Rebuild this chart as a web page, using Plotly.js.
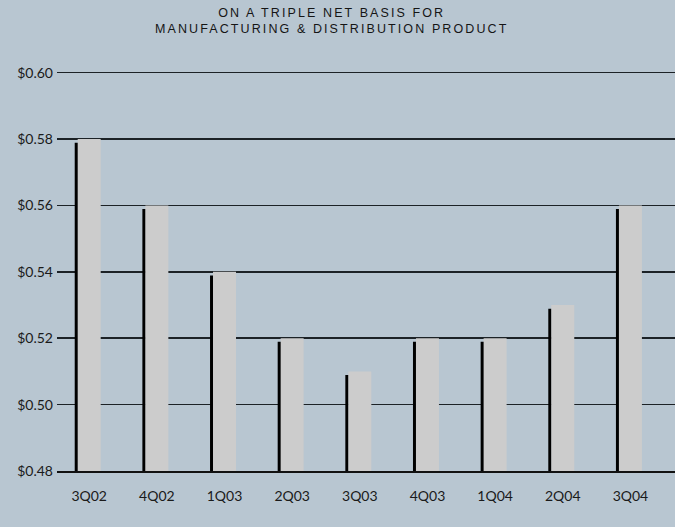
<!DOCTYPE html>
<html>
<head>
<meta charset="utf-8">
<script src="https://cdn.plot.ly/plotly-3.0.1.min.js"></script>
<style>
  html, body { margin: 0; padding: 0; background: #b8c6d1; }
  #chart { width: 675px; height: 527px; }
  .annotation-text { letter-spacing: 2.1px; }
</style>
</head>
<body>
<div id="chart"></div>
<script>
// Quarterly rent per square foot, triple net basis
const quarters = ['3Q02', '4Q02', '1Q03', '2Q03', '3Q03', '4Q03', '1Q04', '2Q04', '3Q04'];
const rentPerSqFt = [0.58, 0.56, 0.54, 0.52, 0.51, 0.52, 0.52, 0.53, 0.56];
const yTickValues = [0.48, 0.50, 0.52, 0.54, 0.56, 0.58, 0.60];
const yTickLabels = ['$0.48', '$0.50', '$0.52', '$0.54', '$0.56', '$0.58', '$0.60'];
const titleLines = ['ON A TRIPLE NET BASIS FOR', 'MANUFACTURING &amp; DISTRIBUTION PRODUCT'];

// The dark edge to the left of each bar sits slightly lower than the bar itself
const SHADOW_DROP = 0.0011;
const shadowHeights = rentPerSqFt.map(v => v - SHADOW_DROP);
const xIdx = quarters.map((q, i) => i);

const BG = '#b8c6d1';

const shadowTrace = {
  type: 'bar',
  x: xIdx,
  y: shadowHeights,
  width: 0.05,
  offset: -0.214,
  marker: { color: '#000000', line: { width: 0 } },
  hoverinfo: 'skip'
};

const barTrace = {
  type: 'bar',
  x: xIdx,
  y: rentPerSqFt,
  width: 0.34,
  offset: -0.17,
  marker: { color: '#cccccc', line: { width: 0 } },
  hoverinfo: 'skip'
};

const layout = {
  width: 675,
  height: 527,
  paper_bgcolor: BG,
  plot_bgcolor: BG,
  showlegend: false,
  barmode: 'overlay',
  margin: { l: 57, r: 0, t: 71, b: 56, pad: 0 },
  font: { family: 'Lato, "Liberation Sans", sans-serif', color: '#1a1a1a', size: 14 },
  annotations: [{
    text: titleLines.join('<br>'),
    font: { family: '"Liberation Sans", Arial, sans-serif', size: 12.5, color: '#151515' },
    showarrow: false,
    xref: 'paper',
    yref: 'paper',
    x: 0.4434,
    xanchor: 'center',
    y: 1,
    yanchor: 'top',
    yshift: 67,
    align: 'center'
  }],
  xaxis: {
    range: [-0.476, 8.659],
    tickmode: 'array',
    tickvals: xIdx,
    ticktext: quarters,
    showgrid: false,
    zeroline: false,
    showline: true,
    linecolor: '#111111',
    linewidth: 1.5,
    ticks: '',
    ticklabelstandoff: 12,
    tickfont: { family: 'Lato, "Liberation Sans", sans-serif', size: 14, color: '#1a1a1a' },
    fixedrange: true
  },
  yaxis: {
    range: [0.48, 0.6005],
    tickmode: 'array',
    tickvals: yTickValues,
    ticktext: yTickLabels,
    showgrid: true,
    gridcolor: '#1c2226',
    gridwidth: 1.5,
    zeroline: false,
    showline: false,
    ticks: '',
    ticklabelstandoff: 3,
    tickfont: { family: 'Lato, "Liberation Sans", sans-serif', size: 14, color: '#1a1a1a' },
    fixedrange: true
  }
};

Plotly.newPlot('chart', [shadowTrace, barTrace], layout, { staticPlot: true, displayModeBar: false });
</script>
</body>
</html>
